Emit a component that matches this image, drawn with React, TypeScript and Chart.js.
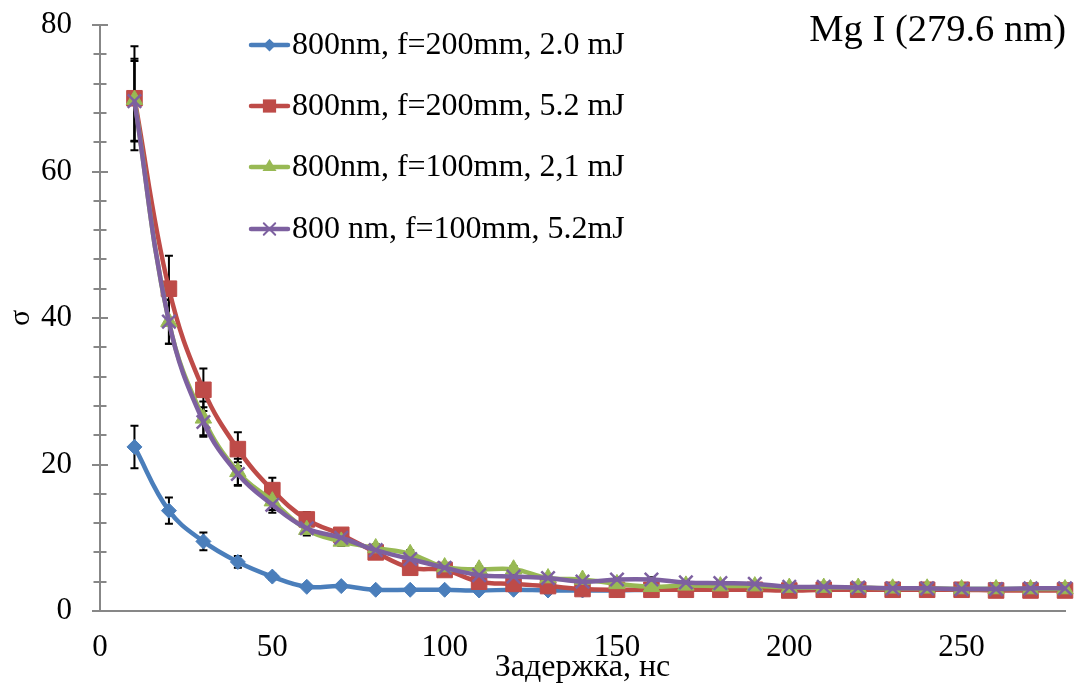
import React, { useEffect, useRef } from "react";
import { Chart, registerables } from "chart.js";

Chart.register(...registerables);

const FONT = '"Liberation Serif", "Times New Roman", serif';

const delays = [10, 20, 30, 40, 50, 60, 70, 80, 90, 100, 110, 120, 130, 140, 150, 160, 170, 180, 190, 200, 210, 220, 230, 240, 250, 260, 270, 280];

const seriesLabels = [
  "800nm, f=200mm, 2.0 mJ",
  "800nm, f=200mm, 5.2 mJ",
  "800nm, f=100mm, 2,1 mJ",
  "800 nm, f=100mm, 5.2mJ",
];

const blueValues = [22.4, 13.7, 9.5, 6.7, 4.7, 3.3, 3.4, 2.9, 2.9, 2.9, 2.8, 2.9, 2.8, 2.8, 2.8, 2.9, 2.9, 2.9, 2.9, 2.9, 2.9, 3.0, 3.0, 3.0, 3.0, 3.0, 3.0, 3.0];
const redValues = [70.0, 44.0, 30.2, 22.1, 16.5, 12.5, 10.4, 8.0, 5.9, 5.6, 4.0, 3.7, 3.4, 3.0, 2.9, 2.9, 2.9, 2.9, 2.9, 2.8, 2.9, 2.9, 2.9, 2.9, 2.9, 2.8, 2.8, 2.8];
const greenValues = [69.8, 39.5, 26.3, 19.0, 15.0, 11.1, 9.5, 8.6, 7.8, 6.0, 5.7, 5.7, 4.5, 4.3, 3.7, 3.3, 3.5, 3.4, 3.4, 3.2, 3.2, 3.2, 3.1, 3.1, 3.0, 3.0, 3.0, 3.0];
const purpleValues = [69.6, 39.5, 25.8, 18.7, 14.5, 11.3, 10.0, 8.3, 7.1, 5.9, 4.9, 4.7, 4.5, 4.0, 4.3, 4.3, 3.9, 3.8, 3.7, 3.3, 3.3, 3.2, 3.1, 3.1, 3.0, 3.0, 3.1, 3.1];

const blueErrors = [2.9, 1.8, 1.2, 0.8, 0.4, 0.2, 0.2, 0.2, 0.2, 0.2, 0.2, 0.2, 0.2, 0.2, 0.2, 0.2, 0.2, 0.2, 0.2, 0.2, 0.2, 0.2, 0.2, 0.2, 0.2, 0.2, 0.2, 0.2];
const redErrors = [7.1, 4.5, 2.9, 2.3, 1.7, 1.0, 0.6, 0.4, 0.3, 0.3, 0.3, 0.3, 0.3, 0.3, 0.3, 0.3, 0.3, 0.3, 0.3, 0.3, 0.3, 0.3, 0.3, 0.3, 0.3, 0.3, 0.3, 0.3];
const greenErrors = [5.6, 3.0, 2.3, 1.8, 1.2, 0.8, 0.6, 0.5, 0.5, 0.4, 0.4, 0.4, 0.3, 0.3, 0.3, 0.3, 0.3, 0.3, 0.3, 0.3, 0.3, 0.3, 0.3, 0.3, 0.3, 0.3, 0.3, 0.3];
const purpleErrors = [5.5, 3.0, 2.0, 1.6, 1.1, 0.8, 0.5, 0.4, 0.4, 0.4, 0.3, 0.3, 0.3, 0.3, 0.3, 0.3, 0.3, 0.3, 0.3, 0.3, 0.3, 0.3, 0.3, 0.3, 0.3, 0.3, 0.3, 0.3];

const xTickValues = [0, 50, 100, 150, 200, 250];
const yMinorStep = 4;

const chartTitle = "Mg I (279.6 nm)";
const xTitle = "Задержка, нс";
const yTitle = "σ";

const colors = ["#4A7EBB", "#BE4B48", "#98B954", "#7D60A0"];
const pointStyles = ["rectRot", "rect", "triangle", "crossRot"];
const pointRadii = [7.5, 11, 9.5, 9.5];
const AXIS_COLOR = "#878787";

const allValues = [blueValues, redValues, greenValues, purpleValues];
const allErrors = [blueErrors, redErrors, greenErrors, purpleErrors];

function drawMarker(ctx: CanvasRenderingContext2D, style: string, x: number, y: number, r: number, color: string) {
  ctx.save();
  ctx.fillStyle = color;
  ctx.strokeStyle = color;
  ctx.lineWidth = 2;
  ctx.beginPath();
  if (style === "rectRot") {
    ctx.moveTo(x, y - r);
    ctx.lineTo(x + r, y);
    ctx.lineTo(x, y + r);
    ctx.lineTo(x - r, y);
    ctx.closePath();
    ctx.fill();
  } else if (style === "rect") {
    const s = r * Math.SQRT1_2;
    ctx.rect(x - s, y - s, 2 * s, 2 * s);
    ctx.fill();
  } else if (style === "triangle") {
    ctx.moveTo(x, y - r);
    ctx.lineTo(x + r * 0.866, y + r * 0.5);
    ctx.lineTo(x - r * 0.866, y + r * 0.5);
    ctx.closePath();
    ctx.fill();
  } else {
    const o = r * Math.SQRT1_2;
    ctx.moveTo(x - o, y - o);
    ctx.lineTo(x + o, y + o);
    ctx.moveTo(x + o, y - o);
    ctx.lineTo(x - o, y + o);
    ctx.stroke();
  }
  ctx.restore();
}

const errorBarPlugin = {
  id: "errorBars",
  beforeDatasetsDraw(chart: any) {
    const { ctx } = chart;
    const yScale = chart.scales.y;
    ctx.save();
    ctx.strokeStyle = "#000000";
    ctx.lineWidth = 2;
    chart.data.datasets.forEach((ds: any, di: number) => {
      const meta = chart.getDatasetMeta(di);
      const errs = allErrors[di];
      meta.data.forEach((pt: any, i: number) => {
        const v = allValues[di][i];
        const e = errs[i];
        if (!e) return;
        const yTop = yScale.getPixelForValue(v + e);
        const yBot = yScale.getPixelForValue(v - e);
        const x = pt.x;
        ctx.beginPath();
        ctx.moveTo(x, yTop);
        ctx.lineTo(x, yBot);
        ctx.moveTo(x - 4, yTop);
        ctx.lineTo(x + 4, yTop);
        ctx.moveTo(x - 4, yBot);
        ctx.lineTo(x + 4, yBot);
        ctx.stroke();
      });
    });
    ctx.restore();
  },
};

const axisTicksPlugin = {
  id: "axisTicks",
  afterDraw(chart: any) {
    const { ctx } = chart;
    const y = chart.scales.y;
    const x0 = chart.chartArea.left;
    ctx.save();
    ctx.strokeStyle = AXIS_COLOR;
    ctx.lineWidth = 2;
    for (let v = y.min; v <= y.max + 1e-9; v += yMinorStep) {
      const py = Math.round(y.getPixelForValue(v));
      const major = v % 20 === 0;
      const len = major ? 8 : 6.5;
      ctx.beginPath();
      ctx.moveTo(x0 - len, py);
      ctx.lineTo(x0 + len, py);
      ctx.stroke();
    }
    ctx.restore();
  },
};

const legendAndTitlePlugin = {
  id: "legendAndTitle",
  afterDraw(chart: any) {
    const { ctx } = chart;
    ctx.save();
    const rowsY = [45, 106, 167, 229];
    seriesLabels.forEach((label, i) => {
      const yy = rowsY[i];
      ctx.strokeStyle = colors[i];
      ctx.lineWidth = 4.5;
      ctx.lineCap = "round";
      ctx.beginPath();
      ctx.moveTo(251, yy);
      ctx.lineTo(288, yy);
      ctx.stroke();
      drawMarker(ctx, pointStyles[i], 269.5, yy, pointRadii[i] * 0.85, colors[i]);
      ctx.fillStyle = "#000000";
      ctx.font = `32px ${FONT}`;
      ctx.textAlign = "left";
      ctx.textBaseline = "middle";
      ctx.fillText(label, 292, yy + 1);
    });
    ctx.font = `38.5px ${FONT}`;
    ctx.textAlign = "right";
    ctx.textBaseline = "alphabetic";
    ctx.fillStyle = "#000000";
    ctx.fillText(chartTitle, 1066, 41);
    ctx.restore();
  },
};

export default function App() {
  const canvasRef = useRef<HTMLCanvasElement | null>(null);

  useEffect(() => {
    if (!canvasRef.current) return;
    const datasets = seriesLabels.map((label, i) => ({
      label,
      data: delays.map((d, j) => ({ x: d, y: allValues[i][j] })),
      borderColor: colors[i],
      backgroundColor: colors[i],
      borderWidth: 4.5,
      pointStyle: pointStyles[i],
      pointRadius: pointRadii[i],
      pointBorderWidth: i === 3 ? 2.5 : 1,
      pointBackgroundColor: colors[i],
      pointBorderColor: colors[i],
      tension: 0.4,
      fill: false,
      clip: false,
      order: 3 - i,
    }));

    const chart = new Chart(canvasRef.current, {
      type: "line",
      data: { datasets },
      options: {
        animation: false,
        responsive: true,
        maintainAspectRatio: false,
        layout: { padding: { top: 25, right: 10, left: 0, bottom: 0 } },
        plugins: {
          legend: { display: false },
          title: { display: false },
          tooltip: { enabled: false },
        },
        scales: {
          x: {
            type: "linear",
            min: 0,
            max: 280,
            afterBuildTicks: (scale: any) => {
              scale.ticks = xTickValues.map((v) => ({ value: v }));
            },
            afterFit: (scale: any) => {
              scale.height = 74;
              scale.paddingLeft = 0;
              scale.paddingRight = 0;
              scale.paddingTop = 0;
              scale.paddingBottom = 0;
            },
            grid: { display: false, drawTicks: false },
            border: { display: true, color: AXIS_COLOR, width: 2 },
            ticks: {
              color: "#000000",
              font: { family: FONT, size: 31 },
              padding: 18,
              maxRotation: 0,
              autoSkip: false,
            },
            title: {
              display: true,
              text: xTitle,
              color: "#000000",
              font: { family: FONT, size: 32 },
              padding: { top: 0, bottom: -2 },
            },
          },
          y: {
            min: 0,
            max: 80,
            afterFit: (scale: any) => {
              scale.width = 100;
              scale.paddingLeft = 0;
              scale.paddingRight = 0;
              scale.paddingTop = 0;
              scale.paddingBottom = 0;
            },
            grid: { display: false, drawTicks: false },
            border: { display: true, color: AXIS_COLOR, width: 2 },
            ticks: {
              stepSize: 20,
              color: "#000000",
              font: { family: FONT, size: 31 },
              padding: 28,
            },
            title: {
              display: true,
              text: yTitle,
              color: "#000000",
              font: { family: FONT, size: 30 },
              padding: { top: 3, bottom: 0 },
            },
          },
        },
      },
      plugins: [errorBarPlugin, axisTicksPlugin, legendAndTitlePlugin],
    });
    return () => chart.destroy();
  }, []);

  return (
    <div style={{ position: "absolute", left: 0, top: 0, width: 1077, height: 685, background: "#ffffff" }}>
      <canvas ref={canvasRef} />
    </div>
  );
}
